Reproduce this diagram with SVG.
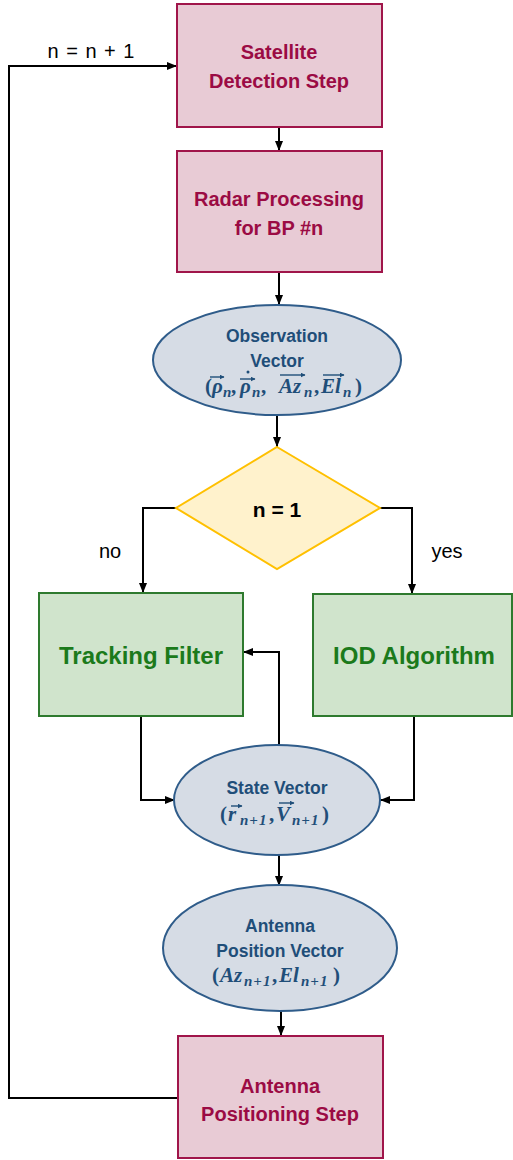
<svg xmlns="http://www.w3.org/2000/svg" width="513" height="1160" viewBox="0 0 513 1160">
  <defs>
    <marker id="ah" viewBox="0 0 10 10" refX="10" refY="5" markerWidth="10" markerHeight="10" markerUnits="userSpaceOnUse" orient="auto">
      <path d="M0,1 L10,5 L0,9 z" fill="#000"/>
    </marker>
    <marker id="vh" viewBox="0 0 10 10" refX="9" refY="5" markerWidth="5" markerHeight="5" markerUnits="userSpaceOnUse" orient="auto">
      <path d="M0,0 L10,5 L0,10 z" fill="#1F4E79"/>
    </marker>
    <style>
      .step { fill: #E8CBD5; stroke: #A0154A; stroke-width: 2; }
      .step-t { font-family: "Liberation Sans", Arial, sans-serif; font-weight: bold; font-size: 20px; fill: #9B0B44; text-anchor: middle; }
      .ell { fill: #D6DCE5; stroke: #2F5C8A; stroke-width: 2; }
      .ell-t { font-family: "Liberation Sans", Arial, sans-serif; font-weight: bold; font-size: 17.5px; fill: #1F4E79; text-anchor: middle; }
      .math { font-family: "Liberation Serif", "Times New Roman", serif; font-weight: bold; font-style: italic; font-size: 21px; fill: #1F4E79; }
      .up { font-style: normal; }
      .sub { font-size: 15px; }
      .sub2 { font-size: 15px; letter-spacing: 1px; }
      .acc { stroke: #1F4E79; stroke-width: 1.4; fill: none; marker-end: url(#vh); }
      .dec { fill: #FFF2CC; stroke: #FFC000; stroke-width: 2; }
      .proc { fill: #D0E4CC; stroke: #2E7A2E; stroke-width: 2; }
      .proc-t { font-family: "Liberation Sans", Arial, sans-serif; font-weight: bold; font-size: 24px; fill: #1B7A1B; text-anchor: middle; }
      .lbl { font-family: "Liberation Sans", Arial, sans-serif; font-size: 20px; fill: #000; text-anchor: middle; }
      .conn path { fill: none; stroke: #000; stroke-width: 2; marker-end: url(#ah); }
    </style>
  </defs>

  <!-- connectors -->
  <g class="conn">
    <path d="M279,127 V151"/>
    <path d="M279,272 V305"/>
    <path d="M277,415 V447"/>
    <path d="M176,508 H143 V593"/>
    <path d="M380,508 H412 V594"/>
    <path d="M141,716 V800 H175"/>
    <path d="M414,716 V800 H380"/>
    <path d="M279,745 V652 H243"/>
    <path d="M279,855 V886"/>
    <path d="M281,1010 V1036"/>
    <path d="M178,1098 H9 V66 H177"/>
  </g>
  <text class="lbl" x="91" y="58" word-spacing="2">n = n + 1</text>
  <text class="lbl" x="110" y="558">no</text>
  <text class="lbl" x="447" y="558">yes</text>

  <!-- satellite detection -->
  <g id="detection">
    <rect class="step" x="177" y="4" width="205" height="123"/>
    <text class="step-t" x="279" y="59">Satellite</text>
    <text class="step-t" x="279" y="88">Detection Step</text>
  </g>

  <!-- radar processing -->
  <g id="radar">
    <rect class="step" x="177" y="151" width="205" height="121"/>
    <text class="step-t" x="279" y="206">Radar Processing</text>
    <text class="step-t" x="279" y="235">for BP #n</text>
  </g>

  <!-- observation vector -->
  <g id="observation">
    <ellipse class="ell" cx="277" cy="360" rx="124" ry="55"/>
    <text class="ell-t" x="277" y="342">Observation</text>
    <text class="ell-t" x="277" y="367">Vector</text>
    <text class="math">
      <tspan class="up" x="205" y="393">(</tspan><tspan x="212">ρ</tspan><tspan class="sub" x="223" y="397">n</tspan><tspan class="up" x="231" y="393">,</tspan><tspan x="240">ρ</tspan><tspan class="sub" x="252" y="397">n</tspan><tspan class="up" x="261" y="393">,</tspan><tspan x="279">Az</tspan><tspan class="sub" x="304" y="397">n</tspan><tspan class="up" x="314" y="393">,</tspan><tspan x="321">El</tspan><tspan class="sub" x="343" y="397">n</tspan><tspan class="up" x="355" y="393">)</tspan>
    </text>
    <path class="acc" d="M210,377 H224"/>
    <circle cx="248" cy="372" r="1.5" fill="#1F4E79"/>
    <path class="acc" d="M240,379 H255"/>
    <path class="acc" d="M280,375 H305"/>
    <path class="acc" d="M323,375 H344"/>
  </g>

  <!-- decision -->
  <g id="decision">
    <path class="dec" d="M277,447 L380,508 L277,569 L176,508 Z"/>
    <text x="277" y="517" text-anchor="middle" font-family="'Liberation Sans', Arial, sans-serif" font-weight="bold" font-size="21" fill="#000">n = 1</text>
  </g>

  <!-- tracking filter -->
  <g id="tracking">
    <rect class="proc" x="39" y="593" width="204" height="123"/>
    <text class="proc-t" x="141" y="664">Tracking Filter</text>
  </g>

  <!-- IOD -->
  <g id="iod">
    <rect class="proc" x="313" y="594" width="199" height="122"/>
    <text class="proc-t" x="414" y="664">IOD Algorithm</text>
  </g>

  <!-- state vector -->
  <g id="state">
    <ellipse class="ell" cx="277" cy="800" rx="103" ry="55"/>
    <text class="ell-t" x="277" y="794">State Vector</text>
    <text class="math">
      <tspan class="up" x="220" y="821">(</tspan><tspan x="228">r</tspan><tspan class="sub2" x="240" y="825">n+1</tspan><tspan class="up" x="269" y="821">,</tspan><tspan x="276">V</tspan><tspan class="sub2" x="292" y="825">n+1</tspan><tspan class="up" x="322" y="821">)</tspan>
    </text>
    <path class="acc" d="M231,806 H242"/>
    <path class="acc" d="M279,803 H294"/>
  </g>

  <!-- antenna position vector -->
  <g id="antenna-vector">
    <ellipse class="ell" cx="280" cy="948" rx="117" ry="63"/>
    <text class="ell-t" x="280" y="932">Antenna</text>
    <text class="ell-t" x="280" y="957">Position Vector</text>
    <text class="math">
      <tspan class="up" x="212" y="982">(</tspan><tspan x="220">Az</tspan><tspan class="sub2" x="244" y="986">n+1</tspan><tspan class="up" x="272" y="982">,</tspan><tspan x="279">El</tspan><tspan class="sub2" x="301" y="986">n+1</tspan><tspan class="up" x="333" y="982">)</tspan>
    </text>
  </g>

  <!-- antenna positioning -->
  <g id="positioning">
    <rect class="step" x="178" y="1036" width="205" height="122"/>
    <text class="step-t" x="280" y="1093">Antenna</text>
    <text class="step-t" x="280" y="1121">Positioning Step</text>
  </g>
</svg>
